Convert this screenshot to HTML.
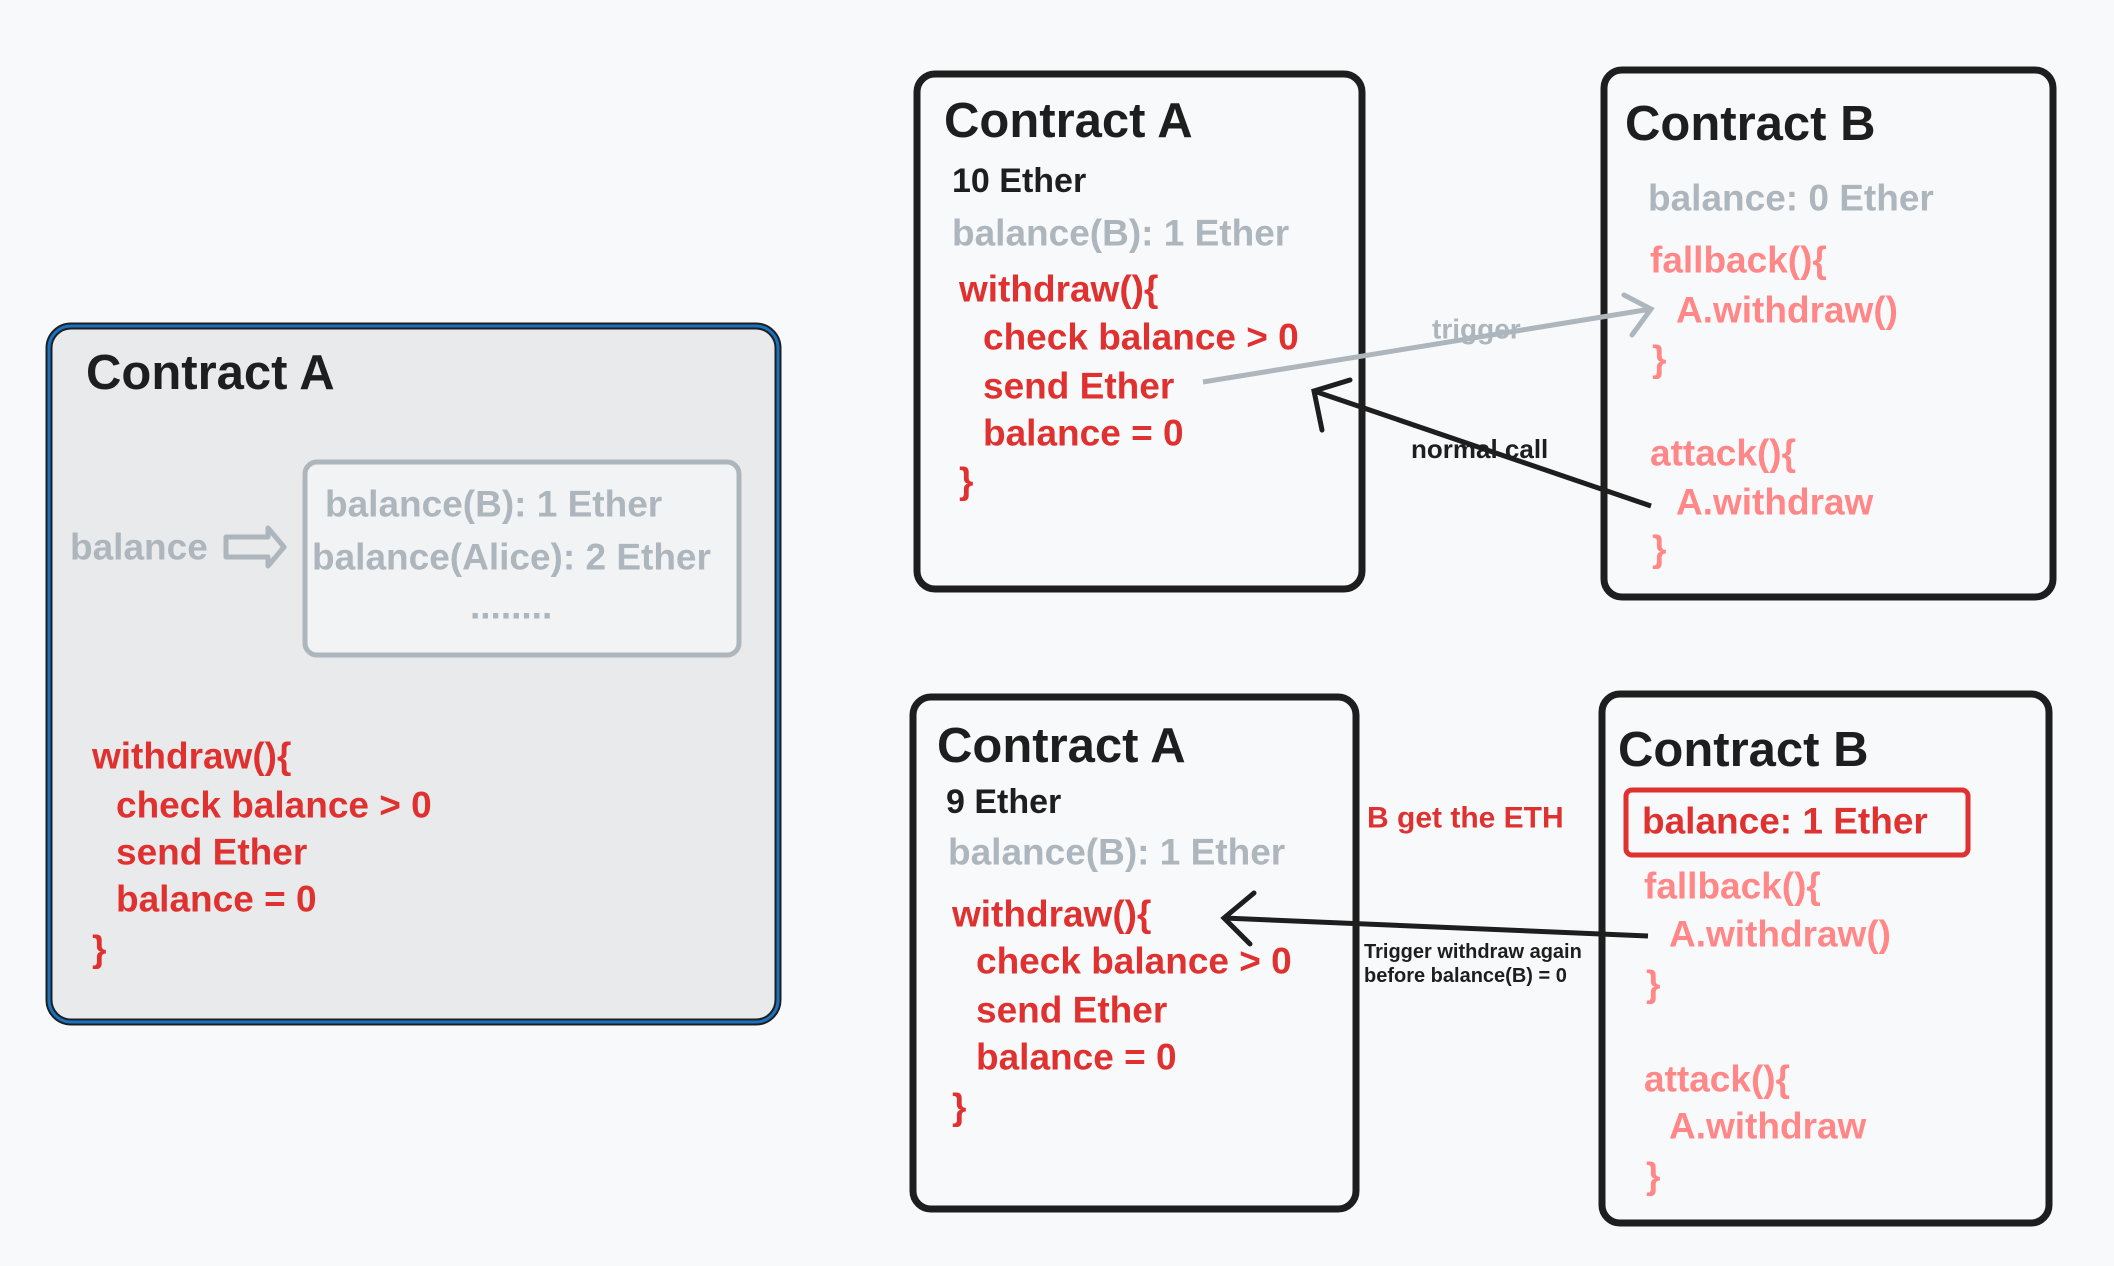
<!DOCTYPE html>
<html><head><meta charset="utf-8"><style>
html,body{margin:0;padding:0;background:#f8f9fa;}
svg{display:block}
text{font-family:"Liberation Sans",sans-serif;dominant-baseline:central;}
.t{font-size:49px;font-weight:bold;fill:#1e1e1e}
.r{font-size:37px;font-weight:bold;fill:#e03131}
.p{font-size:37px;font-weight:bold;fill:#ff8787}
.g{font-size:37px;font-weight:bold;fill:#adb5bd}
.k{font-size:34px;font-weight:bold;fill:#1e1e1e}
</style></head><body>
<svg width="2114" height="1266" viewBox="0 0 2114 1266" xmlns="http://www.w3.org/2000/svg">
<rect width="2114" height="1266" fill="#f8f9fa"/>
<!-- left box -->
<rect x="49" y="326" width="729" height="696" rx="22" fill="#e9eaeb" stroke="#1e1e1e" stroke-width="7"/>
<rect x="49" y="326" width="729" height="696" rx="22" fill="none" stroke="#1971c2" stroke-width="3"/>
<text class="t" x="86" y="373">Contract A</text>
<rect x="305" y="462" width="434" height="193" rx="12" fill="#f1f3f5" stroke="#adb5bd" stroke-width="5"/>
<text class="g" x="325" y="504">balance(B): 1 Ether</text>
<text class="g" x="312" y="557">balance(Alice): 2 Ether</text>
<text class="g" x="470" y="606">........</text>
<text class="g" x="70" y="547">balance</text>
<path d="M226 537 H268 V528 L284 547 L268 566 V557 H226 Z" fill="none" stroke="#adb5bd" stroke-width="5" stroke-linejoin="round"/>
<text class="r" x="92" y="756">withdraw(){</text>
<text class="r" x="116" y="805">check balance &gt; 0</text>
<text class="r" x="116" y="852">send Ether</text>
<text class="r" x="116" y="899">balance = 0</text>
<text class="r" x="92" y="949">}</text>

<!-- top A -->
<rect x="917" y="74" width="445" height="515" rx="18" fill="#f8f9fa" stroke="#1e1e1e" stroke-width="7"/>
<text class="t" x="944" y="121">Contract A</text>
<text class="k" x="952" y="181">10 Ether</text>
<text class="g" x="952" y="233">balance(B): 1 Ether</text>
<text class="r" x="959" y="289">withdraw(){</text>
<text class="r" x="983" y="337">check balance &gt; 0</text>
<text class="r" x="983" y="386">send Ether</text>
<text class="r" x="983" y="433">balance = 0</text>
<text class="r" x="959" y="481">}</text>

<!-- top B -->
<rect x="1604" y="70" width="449" height="527" rx="18" fill="#f8f9fa" stroke="#1e1e1e" stroke-width="7"/>
<text class="t" x="1625" y="124">Contract B</text>
<text class="g" x="1648" y="198">balance: 0 Ether</text>
<text class="p" x="1650" y="260">fallback(){</text>
<text class="p" x="1676" y="310">A.withdraw()</text>
<text class="p" x="1652" y="359">}</text>
<text class="p" x="1650" y="453">attack(){</text>
<text class="p" x="1676" y="502">A.withdraw</text>
<text class="p" x="1652" y="549">}</text>

<!-- trigger arrow -->
<path d="M1203 382 L1651 309" stroke="#adb5bd" stroke-width="5" fill="none"/>
<path d="M1624 295 L1651 309 L1632 335" stroke="#adb5bd" stroke-width="5" fill="none" stroke-linecap="round"/>
<text x="1432" y="329" style="font-size:28px;font-weight:bold;fill:#adb5bd">trigger</text>
<!-- normal call -->
<path d="M1651 506 L1314 391" stroke="#1e1e1e" stroke-width="5" fill="none"/>
<path d="M1350 380 L1314 391 L1322 430" stroke="#1e1e1e" stroke-width="5" fill="none" stroke-linecap="round"/>
<text x="1411" y="449" style="font-size:26px;font-weight:bold;fill:#1e1e1e">normal call</text>

<!-- bottom A -->
<rect x="913" y="697" width="443" height="512" rx="18" fill="#f8f9fa" stroke="#1e1e1e" stroke-width="7"/>
<text class="t" x="937" y="746">Contract A</text>
<text class="k" x="946" y="802">9 Ether</text>
<text class="g" x="948" y="852">balance(B): 1 Ether</text>
<text class="r" x="952" y="914">withdraw(){</text>
<text class="r" x="976" y="961">check balance &gt; 0</text>
<text class="r" x="976" y="1010">send Ether</text>
<text class="r" x="976" y="1057">balance = 0</text>
<text class="r" x="952" y="1107">}</text>

<!-- bottom B -->
<rect x="1602" y="694" width="447" height="529" rx="18" fill="#f8f9fa" stroke="#1e1e1e" stroke-width="7"/>
<text class="t" x="1618" y="750">Contract B</text>
<rect x="1626" y="790" width="342" height="65" rx="6" fill="none" stroke="#e03131" stroke-width="5"/>
<text class="r" x="1642" y="821">balance: 1 Ether</text>
<text class="p" x="1644" y="886">fallback(){</text>
<text class="p" x="1669" y="934">A.withdraw()</text>
<text class="p" x="1646" y="984">}</text>
<text class="p" x="1644" y="1079">attack(){</text>
<text class="p" x="1669" y="1126">A.withdraw</text>
<text class="p" x="1646" y="1176">}</text>

<text x="1367" y="818" style="font-size:30px;font-weight:bold;fill:#e03131">B get the ETH</text>
<path d="M1648 936 L1224 918" stroke="#1e1e1e" stroke-width="5" fill="none"/>
<path d="M1254 893 L1224 918 L1250 944" stroke="#1e1e1e" stroke-width="5" fill="none" stroke-linecap="round"/>
<text x="1364" y="952" style="font-size:20px;font-weight:bold;fill:#1e1e1e">Trigger withdraw again</text>
<text x="1364" y="976" style="font-size:20px;font-weight:bold;fill:#1e1e1e">before balance(B) = 0</text>
</svg>
</body></html>
